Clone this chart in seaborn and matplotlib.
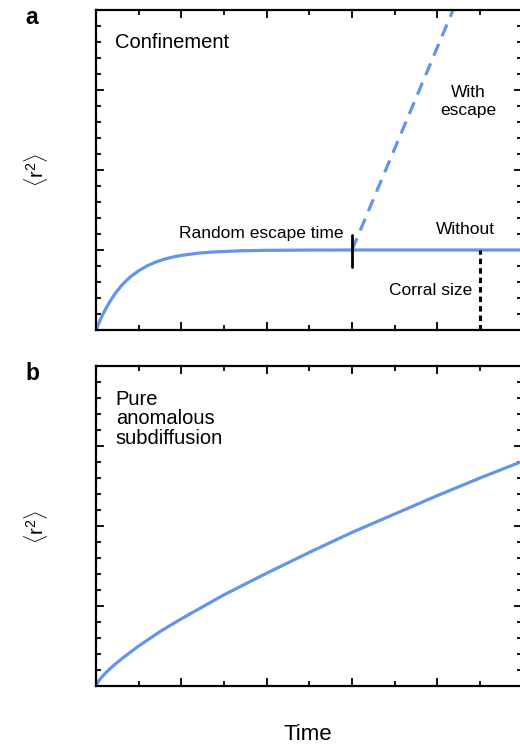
import numpy as np
import pandas as pd
import matplotlib
matplotlib.use("Agg")
import matplotlib.pyplot as plt
import seaborn as sns
from matplotlib.ticker import MultipleLocator

# ---- data ----
conf_t = [0, 0.025, 0.05, 0.075, 0.1, 0.15, 0.2, 0.25, 0.3, 0.35, 0.4, 0.5, 0.6, 0.7,
          0.8, 0.9, 1.0, 1.2, 1.4, 1.7, 2.0, 2.5, 3.0, 4.0, 5.0]
conf_r2 = [0, 0.065, 0.126, 0.184, 0.237, 0.333, 0.418, 0.491, 0.556, 0.612, 0.661,
           0.741, 0.802, 0.849, 0.885, 0.912, 0.933, 0.961, 0.977, 0.990, 0.996,
           0.999, 1.0, 1.0, 1.0]
escape_t = [3.0, 4.5]
escape_r2 = [1.0, 4.8]
escape_time = 3.0
escape_mark = [0.79, 1.19]
corral_t = 4.5
corral_size = 1.0

sub_t = [0, 0.01, 0.02, 0.05, 0.1, 0.15, 0.2, 0.3, 0.4, 0.5, 0.75, 1.0, 1.25, 1.5,
         2.0, 2.5, 3.0, 3.5, 4.0, 4.5, 5.0]
sub_r2 = [0, 0.027, 0.045, 0.089, 0.149, 0.203, 0.25, 0.34, 0.42, 0.50, 0.68, 0.84,
          0.99, 1.14, 1.41, 1.67, 1.92, 2.15, 2.38, 2.60, 2.81]

panel_labels = ["a", "b"]
panel_titles = ["Confinement", "Pure\nanomalous\nsubdiffusion"]
xlabel = "Time"
ylabel = r"$\langle\mathregular{r^2}\rangle$"

# ---- style ----
sns.set_theme(style="ticks")
plt.rcParams["font.family"] = ["Liberation Sans", "DejaVu Sans"]
plt.rcParams["mathtext.fontset"] = "custom"
plt.rcParams["mathtext.rm"] = "Liberation Sans"
plt.rcParams["text.color"] = "black"
plt.rcParams["axes.labelcolor"] = "black"
blue = "#6495ED"

fig = plt.figure(figsize=(5.2, 7.46), dpi=100)
W, H = 520, 746
PX_PER_UNIT = 85.33
LEFT, RIGHT = 96, 521.5

def ax_rect(l, t, r, b):
    return [l / W, 1 - b / H, (r - l) / W, (b - t) / H]

ax1 = fig.add_axes(ax_rect(LEFT, 10, RIGHT, 330))
ax2 = fig.add_axes(ax_rect(LEFT, 366, RIGHT, 686))

for ax in (ax1, ax2):
    ax.set_facecolor("white")

# Panel a
df_conf = pd.DataFrame({"t": conf_t, "r2": conf_r2})
sns.lineplot(data=df_conf, x="t", y="r2", ax=ax1, color=blue, lw=2.3)
df_esc = pd.DataFrame({"t": escape_t, "r2": escape_r2})
sns.lineplot(data=df_esc, x="t", y="r2", ax=ax1, color=blue, lw=2.3)
ax1.lines[-1].set_dashes((4, 2.6))
ax1.plot([escape_time, escape_time], escape_mark, color="black", lw=2.0)
ax1.plot([corral_t, corral_t], [0, corral_size], color="black", lw=2.2,
         dashes=(1.8, 1.3))

ax1.text(0.22, 3.6, panel_titles[0], fontsize=14.5, ha="left", va="center")
ax1.text(2.9, 1.21, "Random escape time", fontsize=12.5, ha="right", va="center")
ax1.text(4.33, 1.26, "Without", fontsize=12.5, ha="center", va="center")
ax1.text(4.36, 2.86, "With\nescape", fontsize=12.5, ha="center", va="center",
         linespacing=1.25)
ax1.text(4.41, 0.5, "Corral size", fontsize=12.5, ha="right", va="center")

# Panel b
df_sub = pd.DataFrame({"t": sub_t, "r2": sub_r2})
sns.lineplot(data=df_sub, x="t", y="r2", ax=ax2, color=blue, lw=2.3)
ax2.text(0.23, 3.34, panel_titles[1], fontsize=14.5, ha="left", va="center",
         linespacing=1.05)

for ax in (ax1, ax2):
    ax.set_xlim(0, (RIGHT - LEFT) / PX_PER_UNIT)
    ax.set_ylim(0, 4)
    ax.xaxis.set_major_locator(MultipleLocator(1))
    ax.xaxis.set_minor_locator(MultipleLocator(0.5))
    ax.yaxis.set_major_locator(MultipleLocator(1))
    ax.yaxis.set_minor_locator(MultipleLocator(0.2))
    ax.tick_params(which="both", direction="in", top=True, right=True,
                   labelbottom=False, labelleft=False, color="black")
    ax.tick_params(which="major", length=6, width=1.3)
    ax.tick_params(which="minor", length=3.5, width=1.3)
    for s in ax.spines.values():
        s.set_linewidth(1.6)
        s.set_color("black")
    ax.set_xlabel("")
    ax.set_ylabel("")

# axis labels
for yc in (170, 527):
    fig.text(36 / W, 1 - yc / H, ylabel, fontsize=14.5, rotation=90,
             ha="center", va="center")
fig.text(308 / W, 1 - 735 / H, xlabel, fontsize=16, ha="center", va="center")

fig.text(32 / W, 1 - 17 / H, panel_labels[0], fontsize=16.5, fontweight="bold",
         ha="center", va="center")
fig.text(32 / W, 1 - 373 / H, panel_labels[1], fontsize=16.5, fontweight="bold",
         ha="center", va="center")

fig.savefig("out.png", dpi=100, facecolor="white")
